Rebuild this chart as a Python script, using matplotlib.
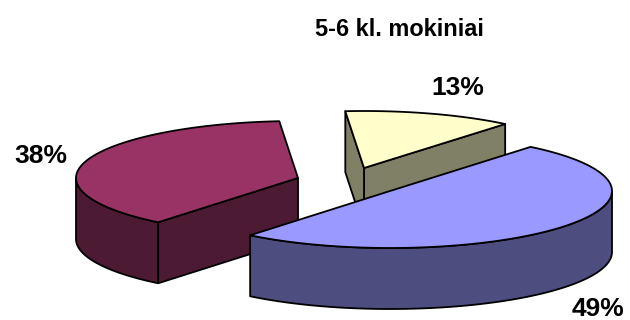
import numpy as np
import matplotlib
matplotlib.use("Agg")
import matplotlib.pyplot as plt
from matplotlib.patches import Polygon

# data, in the order the slices run clockwise
slices = ["blue", "red", "yellow"]
shares = [49, 38, 13]
labels = ["49%", "38%", "13%"]
title = "5-6 kl. mokiniai"

top_colors = {"blue": "#9999FF", "red": "#993366", "yellow": "#FFFFCC"}
side_colors = {"blue": "#4D4D80", "red": "#4D1A33", "yellow": "#808066"}

# pie geometry in pixels
rx, ry = 222, 57
depth = 61
start = 50.7
# the tilted view widens the front slice a bit and squeezes the back one
stretch = {"blue": 1.019, "red": 0.995, "yellow": 0.947}
centers = {"blue": (390, 191), "red": (298, 178), "yellow": (364, 168)}
label_pos = {"blue": (598, 309), "red": (41, 156), "yellow": (458, 88)}


def point(name, t, down=0):
    cx, cy = centers[name]
    a = np.radians(t)
    return cx + rx * np.cos(a), cy - ry * np.sin(a) + down


def arc(name, t0, t1, down=0):
    ts = np.linspace(t0, t1, 90)
    return [point(name, t, down) for t in ts]


def add_poly(ax, pts, color):
    ax.add_patch(Polygon(pts, closed=True, facecolor=color, edgecolor="black",
                         linewidth=1.3, joinstyle="round"))


def wall(name, t):
    # flat cut face from the apex out to the rim
    cx, cy = centers[name]
    return [(cx, cy), point(name, t), point(name, t, depth), (cx, cy + depth)]


def rim(name, t0, t1):
    return arc(name, t0, t1) + arc(name, t1, t0, depth)


# slice angles, going clockwise from the start angle
angles = {}
a = start
for name, share in zip(slices, shares):
    span = share * 3.6 * stretch[name]
    angles[name] = (a, a - span)
    a = a - span

fig = plt.figure(figsize=(6.3, 3.2), dpi=100)
ax = fig.add_axes([0, 0, 1, 1])
ax.set_xlim(0, 630)
ax.set_ylim(320, 0)
ax.axis("off")

# back to front: yellow, red, blue
t0, t1 = angles["yellow"]
add_poly(ax, wall("yellow", t1 + 360), side_colors["yellow"])
add_poly(ax, wall("yellow", t0), side_colors["yellow"])
add_poly(ax, [centers["yellow"]] + arc("yellow", t0, t1), top_colors["yellow"])

t0, t1 = angles["red"]
add_poly(ax, wall("red", t0), side_colors["red"])
add_poly(ax, rim("red", -180, t0), side_colors["red"])
add_poly(ax, [centers["red"]] + arc("red", t0, t1), top_colors["red"])

t0, t1 = angles["blue"]
add_poly(ax, rim("blue", t1, 0), side_colors["blue"])
add_poly(ax, [centers["blue"]] + arc("blue", t0, t1), top_colors["blue"])

font = ["Liberation Sans", "DejaVu Sans"]
for name, lab in zip(slices, labels):
    x, y = label_pos[name]
    ax.text(x, y, lab, ha="center", va="center", fontsize=19, fontweight="bold", family=font)
ax.text(399, 29, title, ha="center", va="center", fontsize=16.9, fontweight="bold", family=font)

fig.savefig("out.png", dpi=100)
